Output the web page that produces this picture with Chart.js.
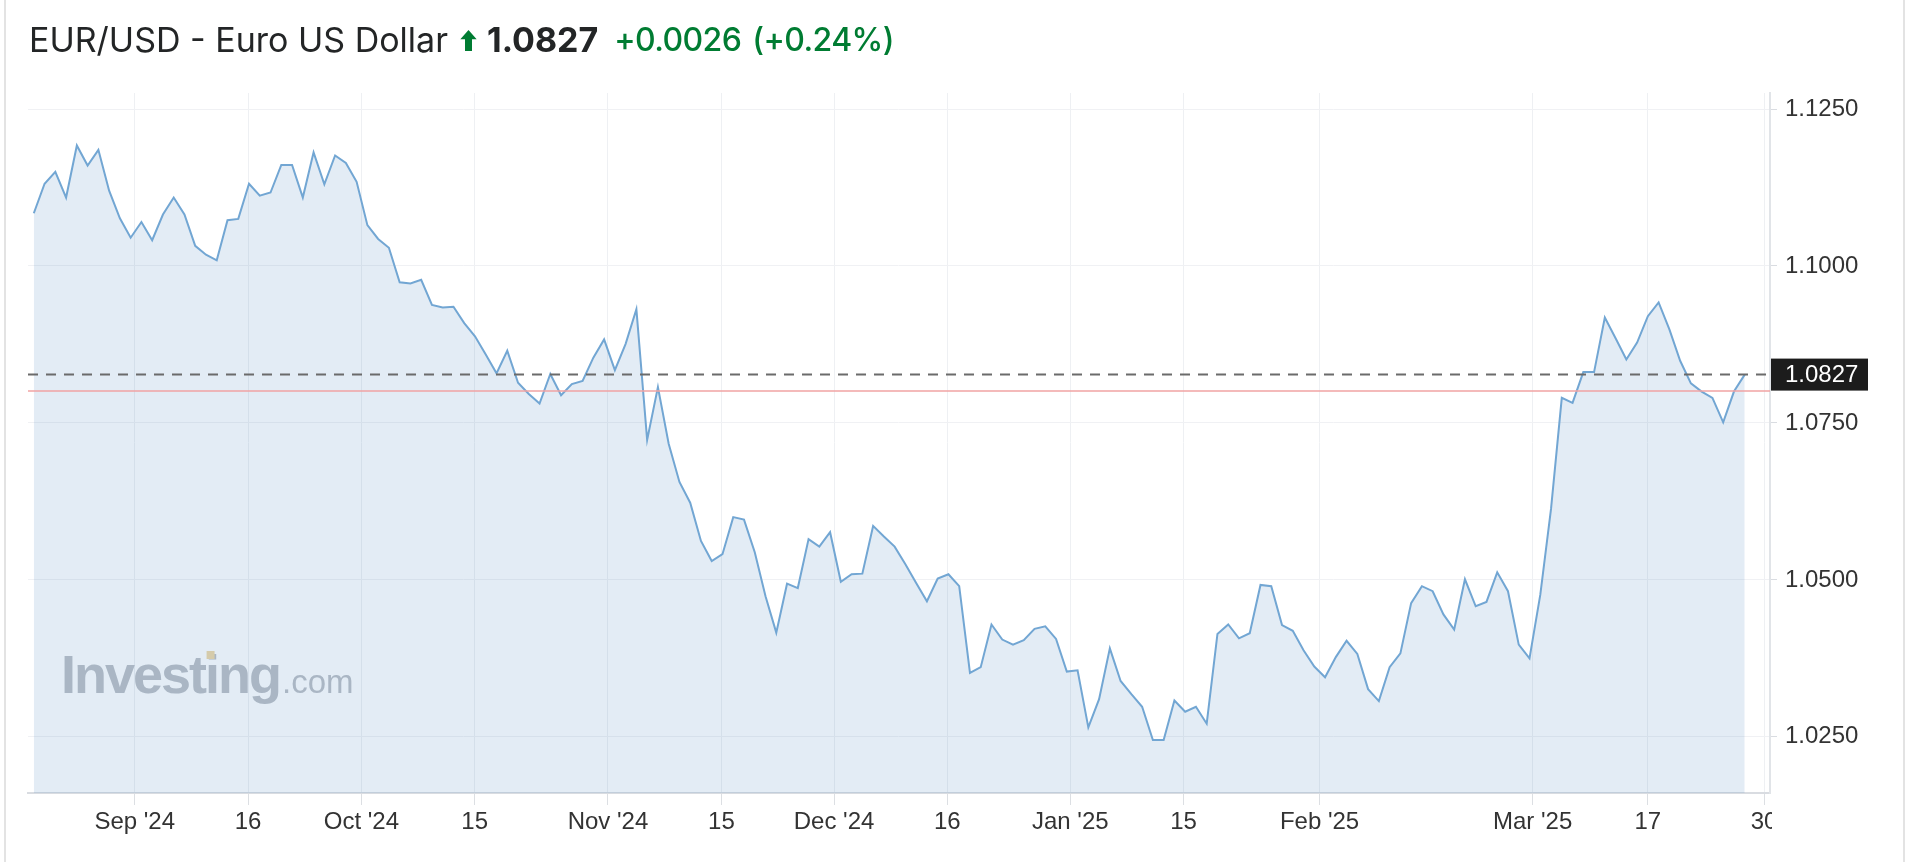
<!DOCTYPE html>
<html><head><meta charset="utf-8">
<script src="https://cdn.jsdelivr.net/npm/chart.js@4.4.1/dist/chart.umd.min.js"></script>
<style>
html,body{margin:0;padding:0;background:#fff;}
#wrap{position:relative;width:1920px;height:862px;overflow:hidden;background:#fff;}
#frame{position:absolute;left:4px;top:0;width:1901px;height:862px;border-left:2px solid #e3e3e3;border-right:2px solid #e3e3e3;box-sizing:border-box;}
#title{position:absolute;left:29px;top:23px;height:34px;display:flex;align-items:center;font-family:Inter,"Noto Sans",sans-serif;font-size:34px;line-height:34px;white-space:nowrap;color:#232526;}
#title .g{color:#007c32;font-weight:500;font-size:32px;letter-spacing:-0.6px;}
#c{position:absolute;left:0;top:0;}
#arrow{width:17px;height:21px;margin:0 10px 0 12px;}
</style></head>
<body><div id="wrap">
<div id="frame"></div>
<canvas id="c" width="1920" height="862"></canvas>
<div id="title"><span>EUR/USD - Euro US Dollar</span><svg id="arrow" viewBox="0 0 14 18"><polygon points="7,0 14,8 10,8 10,18 4,18 4,8 0,8" fill="#007c32"/></svg><span id="price" style="font-weight:700"></span><span class="g" id="chg" style="margin-left:16px"></span><span class="g" id="pct" style="margin-left:11px"></span></div>
</div>
<script>
// ---- data ----
const values = [
1.1084,1.1131,1.1150,1.1109,1.1192,1.1160,1.1185,1.1120,1.1076,1.1045,
1.1070,1.1041,1.1082,1.1109,1.1082,1.1032,1.1018,1.1009,1.1073,1.1075,
1.1131,1.1112,1.1117,1.1161,1.1161,1.1109,1.1181,1.1130,1.1176,1.1164,
1.1134,1.1065,1.1043,1.1029,1.0974,1.0972,1.0978,1.0938,1.0934,1.0935,
1.0909,1.0888,1.0859,1.0829,1.0865,1.0814,1.0796,1.0781,1.0828,1.0794,
1.0812,1.0817,1.0854,1.0883,1.0834,1.0876,1.0931,1.0723,1.0807,1.0717,
1.0656,1.0623,1.0562,1.0530,1.0541,1.0600,1.0596,1.0544,1.0474,1.0416,
1.0494,1.0487,1.0565,1.0553,1.0576,1.0497,1.0509,1.0510,1.0586,1.0569,
1.0553,1.0525,1.0495,1.0466,1.0502,1.0509,1.0490,1.0352,1.0361,1.0429,
1.0405,1.0397,1.0404,1.0422,1.0426,1.0406,1.0354,1.0356,1.0265,1.0310,
1.0391,1.0339,1.0318,1.0298,1.0245,1.0245,1.0308,1.0290,1.0298,1.0271,
1.0414,1.0429,1.0407,1.0415,1.0492,1.0490,1.0428,1.0419,1.0388,1.0362,
1.0345,1.0377,1.0403,1.0382,1.0326,1.0307,1.0361,1.0383,1.0463,1.0490,
1.0482,1.0445,1.0421,1.0501,1.0458,1.0465,1.0512,1.0482,1.0397,1.0375,
1.0476,1.0613,1.0790,1.0782,1.0831,1.0831,1.0918,1.0885,1.0851,1.0878,
1.0920,1.0942,1.0899,1.0849,1.0813,1.0800,1.0790,1.0751,1.0800,1.0827
];
const xTickPos = [9.38,19.91,30.44,40.97,53.36,63.90,74.37,84.90,96.32,106.85,119.49,139.29,149.99,160.80];
const xTickLabels = ["Sep '24","16","Oct '24","15","Nov '24","15","Dec '24","16","Jan '25","15","Feb '25","Mar '25","17","30"];
const yTicks = [1.025,1.05,1.075,1.1,1.125];
const lastPrice = 1.0827;
const prevClose = 1.0801;
const xRange = [-0.54, 161.35];
const yRange = [1.01606, 1.12755];

// ---- title values ----
const change = lastPrice - prevClose;
document.getElementById('price').textContent = lastPrice.toFixed(4);
document.getElementById('chg').textContent = (change>=0?'+':'') + change.toFixed(4);
document.getElementById('pct').textContent = '(' + (change>=0?'+':'') + (change/prevClose*100).toFixed(2) + '%)';

const tickFont = {family:"'Liberation Sans', Arial, sans-serif", size:24};

const overlay = {
  id:'overlay',
  beforeDatasetsDraw(chart){
    const {ctx, chartArea:a} = chart;
    ctx.save();
    const x0 = a.left + 33, base = a.bottom - 100;
    ctx.fillStyle = '#bcc0c6';
    ctx.font = "bold 54px 'Liberation Sans', Arial, sans-serif";
    ctx.letterSpacing = '-2px';
    ctx.textBaseline = 'alphabetic';
    ctx.fillText('Investing', x0, base);
    const w = ctx.measureText('Investing').width;
    const wi = ctx.measureText('Invest').width;
    const wii = ctx.measureText('i').width;
    ctx.letterSpacing = '0px';
    ctx.font = "33px 'Liberation Sans', Arial, sans-serif";
    ctx.fillText('.com', x0 + w + 2, base);
    ctx.fillStyle = '#efd9a9';
    ctx.fillRect(x0 + wi + wii/2 - 5, base - 42, 8, 8);
    ctx.restore();
  },
  afterDatasetsDraw(chart){
    const {ctx, chartArea:a, scales:{y}} = chart;
    ctx.save();
    const yp = y.getPixelForValue(prevClose);
    ctx.strokeStyle = '#f0a3a3';
    ctx.lineWidth = 1.5;
    ctx.beginPath(); ctx.moveTo(a.left, yp); ctx.lineTo(a.right, yp); ctx.stroke();
    const yl = y.getPixelForValue(lastPrice);
    ctx.strokeStyle = '#6b6b6b';
    ctx.lineWidth = 2;
    ctx.setLineDash([10,8]);
    ctx.beginPath(); ctx.moveTo(a.left, yl); ctx.lineTo(a.right, yl); ctx.stroke();
    ctx.restore();
  },
  afterDraw(chart){
    const {ctx, chartArea:a, scales:{y}} = chart;
    ctx.save();
    ctx.fillStyle = '#fff';
    ctx.fillRect(a.right + 2, a.bottom + 14, 40, 50);
    const yl = y.getPixelForValue(lastPrice);
    ctx.fillStyle = '#1c1c1c';
    ctx.fillRect(a.right + 1, yl - 16, 97, 32);
    ctx.fillStyle = '#fff';
    ctx.font = "24px 'Liberation Sans', Arial, sans-serif";
    ctx.textBaseline = 'middle';
    ctx.fillText(lastPrice.toFixed(4), a.right + 15, yl + 1);
    ctx.restore();
  }
};

new Chart(document.getElementById('c'), {
  type:'line',
  data:{datasets:[{
    data: values.map((v,i)=>({x:i,y:v})),
    borderColor:'#72a6d3',
    borderWidth:2,
    backgroundColor:'rgba(70,130,190,0.15)',
    fill:'start',
    pointRadius:0,
    tension:0
  }]},
  options:{
    responsive:false, animation:false, devicePixelRatio:1,
    layout:{padding:{left:28, top:93, right:0, bottom:0}},
    plugins:{legend:{display:false}, tooltip:{enabled:false}},
    scales:{
      x:{type:'linear', min:xRange[0], max:xRange[1],
        afterBuildTicks:s=>{ s.ticks = xTickPos.map(v=>({value:v})); },
        afterFit:s=>{ s.height = 69; },
        ticks:{autoSkip:false, maxRotation:0, minRotation:0, color:'#333', font:tickFont, padding:3,
          callback:(v,i)=>xTickLabels[i]},
        grid:{color:'#eef0f3', lineWidth:1, drawTicks:true, tickLength:12, tickColor:'#dcdfe3'},
        border:{color:'#d9dce1', width:2}
      },
      y:{position:'right', min:yRange[0], max:yRange[1],
        afterBuildTicks:s=>{ s.ticks = yTicks.map(v=>({value:v})); },
        afterFit:s=>{ s.width = 150; },
        ticks:{color:'#333', font:tickFont, padding:8, callback:v=>Number(v).toFixed(4)},
        grid:{color:'#f0f1f4', lineWidth:1, tickLength:7, tickColor:'#d9dce1'},
        border:{color:'#e1e4e8', width:2}
      }
    }
  },
  plugins:[overlay]
});
</script>
</body></html>
